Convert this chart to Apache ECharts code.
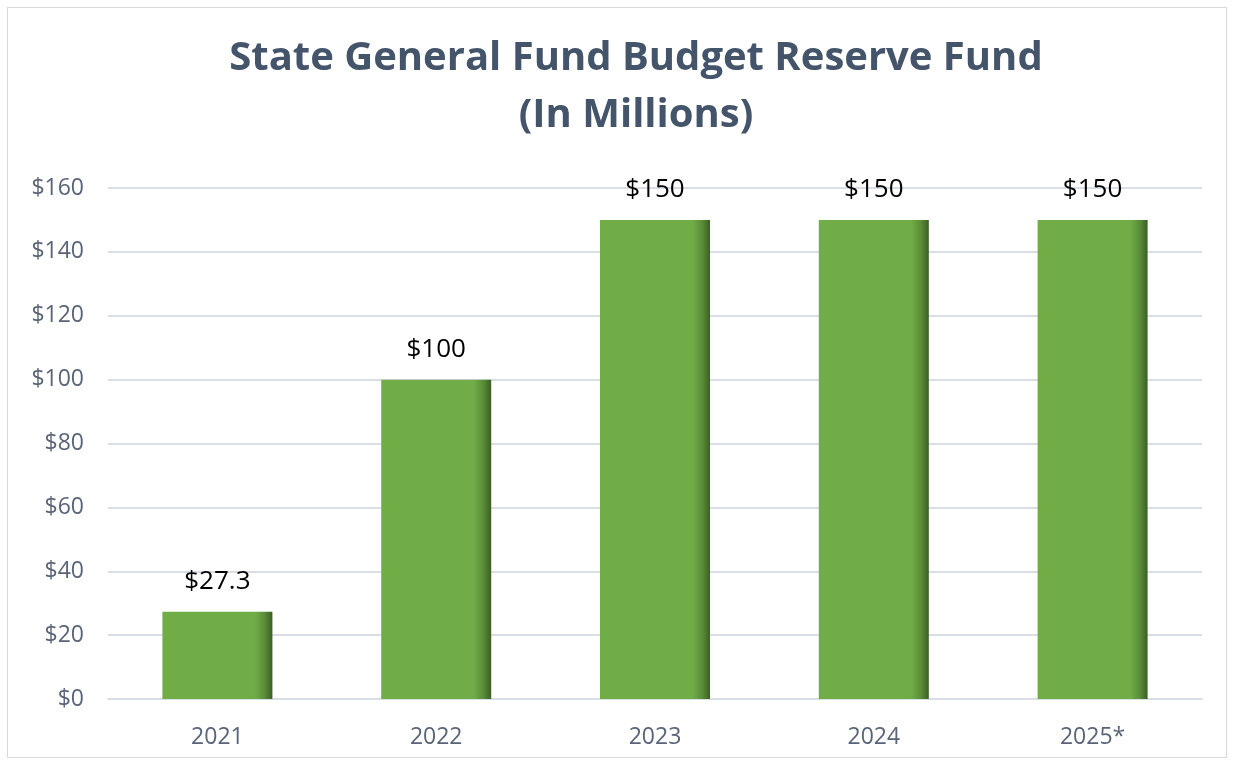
<!DOCTYPE html>
<html>
<head>
<meta charset="utf-8">
<script src="https://cdn.jsdelivr.net/npm/echarts@6/dist/echarts.min.js"></script>
<style>
  html, body { margin: 0; padding: 0; background: #fff; }
  #chart { position: absolute; left: 7px; top: 7px; width: 1220px; height: 751px; border: 1.5px solid #d9d9d9; box-sizing: border-box; }
</style>
</head>
<body>
<div id="chart"></div>
<script>
// Budget reserve fund balance by fiscal year, in millions of dollars
const years = ['2021', '2022', '2023', '2024', '2025*'];
const reserve = [27.3, 100, 150, 150, 150];
const reserveLabels = ['$27.3', '$100', '$150', '$150', '$150'];

const chart = echarts.init(document.getElementById('chart'));

const barFill = new echarts.graphic.LinearGradient(0, 0, 1, 0, [
  { offset: 0, color: '#70ad47' },
  { offset: 0.84, color: '#70ad47' },
  { offset: 0.93, color: '#5a8c38' },
  { offset: 1, color: '#3b5e25' }
]);

chart.setOption({
  animation: false,
  title: {
    text: 'State General Fund Budget Reserve Fund\n(In Millions)',
    left: 623,
    textAlign: 'center',
    top: 17,
    textStyle: {
      fontFamily: 'Open Sans',
      fontWeight: 'bold',
      fontSize: 40,
      lineHeight: 57,
      color: '#44546a'
    }
  },
  grid: { left: 100, right: 24, top: 180, bottom: 58, containLabel: false },
  xAxis: {
    type: 'category',
    data: years,
    axisLine: { show: true, lineStyle: { color: '#d9dee6', width: 2 } },
    axisTick: { show: false },
    axisLabel: { color: '#596479', fontFamily: 'Open Sans', fontSize: 23, margin: 27 }
  },
  yAxis: {
    type: 'value',
    min: 0,
    max: 160,
    interval: 20,
    axisLine: { show: false },
    axisTick: { show: false },
    splitLine: { lineStyle: { color: '#d9dee6', width: 2 } },
    axisLabel: {
      color: '#596479',
      fontFamily: 'Open Sans',
      fontSize: 23,
      margin: 24,
      formatter: v => '$' + v
    }
  },
  series: [{
    type: 'bar',
    data: reserve,
    barWidth: 110,
    itemStyle: { color: barFill },
    label: {
      show: true,
      position: 'top',
      distance: 17,
      color: '#000',
      fontFamily: 'Open Sans',
      fontSize: 26,
      formatter: p => reserveLabels[p.dataIndex]
    }
  }]
});
</script>
</body>
</html>
